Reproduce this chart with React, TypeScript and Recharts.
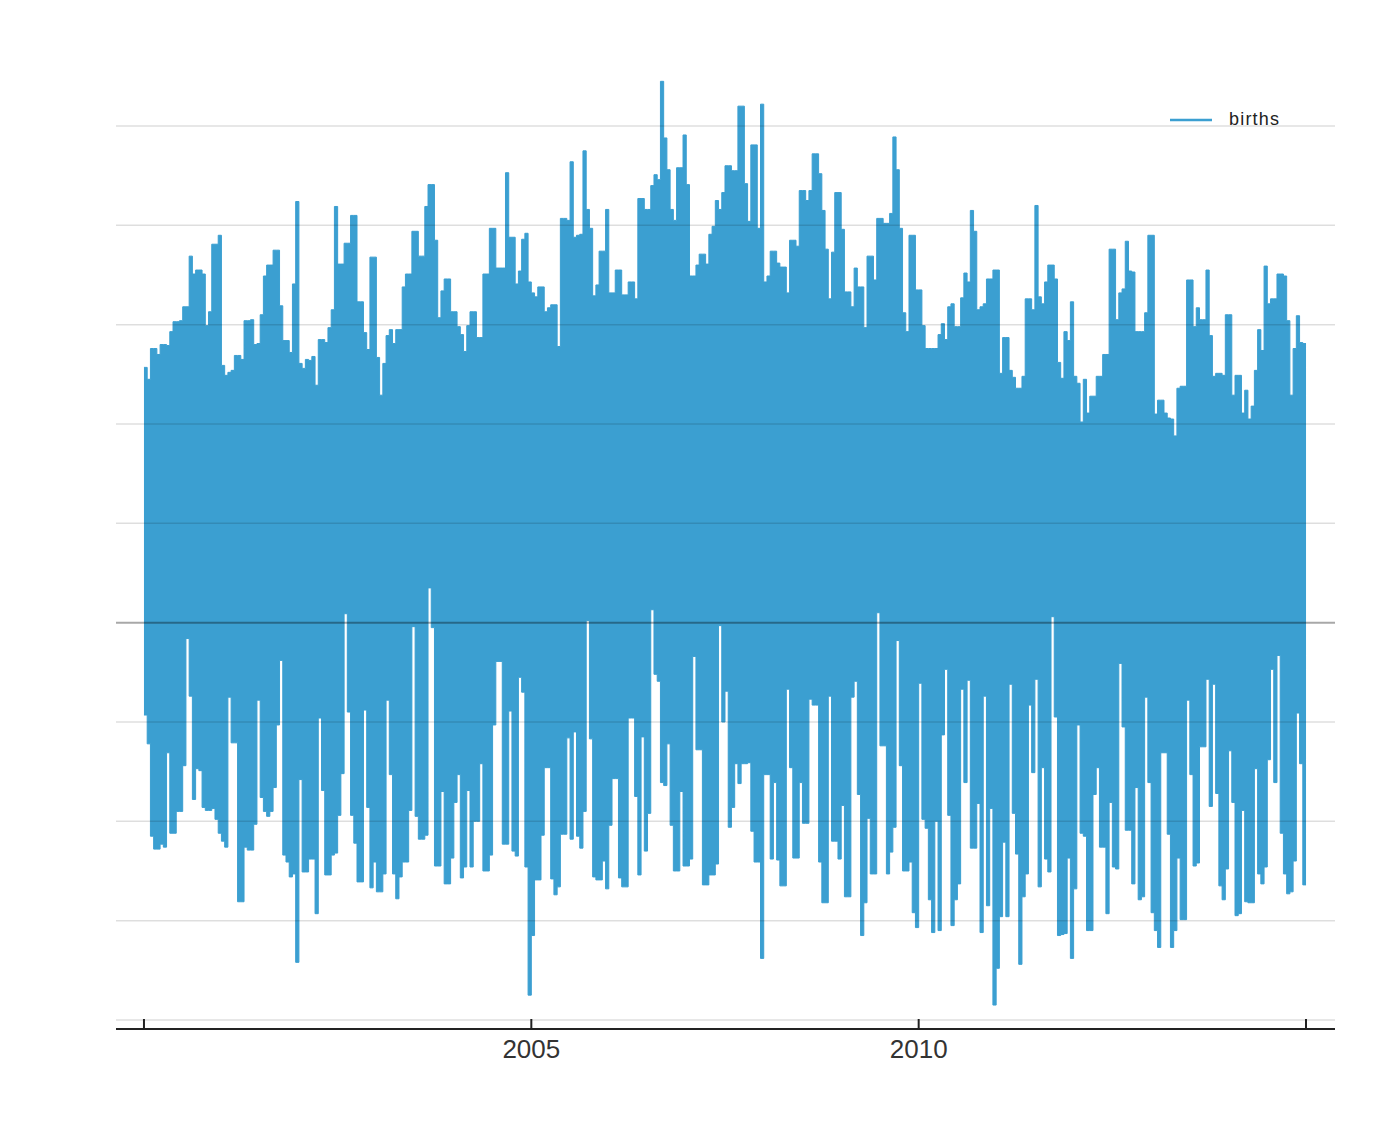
import { ComposedChart, Area, XAxis, YAxis, ReferenceLine } from 'recharts'

// half-month upper envelope of daily births, one row per year 2000 .. 2014
const halfMonthHigh = [
  12570, 12450, 12760, 12760, 12700, 12800, 12800, 12790, 12930, 13030, 13030, 13040, 13180, 13180, 13690, 13510, 13550, 13550, 13510, 12990, 13130, 13810, 13810, 13900,
  12590, 12490, 12520, 12540, 12690, 12690, 12650, 13040, 13040, 13050, 12800, 12810, 13100, 13490, 13600, 13600, 13750, 13750, 13190, 12840, 12840, 12720, 13410, 14240,
  12610, 12560, 12650, 12640, 12680, 12390, 12850, 12850, 12820, 12970, 13150, 14190, 13610, 13610, 13820, 13820, 14100, 14100, 13230, 13230, 12920, 12750, 13680, 13680,
  12670, 12290, 12610, 12890, 12950, 12810, 12950, 12950, 13380, 13510, 13510, 13940, 13940, 13690, 13690, 14190, 14410, 14410, 13850, 13070, 13340, 13460, 13460, 13130,
  13130, 12980, 12900, 12730, 12990, 13130, 13130, 12870, 12870, 13510, 13510, 13970, 13970, 13570, 13570, 13570, 14530, 13880, 13880, 13410, 13540, 13860, 13920, 13430,
  13320, 13280, 13380, 13380, 13130, 13170, 13200, 13200, 12780, 14070, 14070, 14050, 14640, 13880, 13900, 13910, 14750, 14160, 13970, 13290, 13400, 13740, 13740, 14160,
  13320, 13320, 13550, 13550, 13300, 13300, 13430, 13430, 13260, 14270, 14270, 14160, 14160, 14400, 14510, 14460, 15450, 14880, 14560, 14160, 14050, 14580, 14580, 14910,
  14410, 13490, 13490, 13600, 13710, 13710, 13610, 13910, 13990, 14250, 14160, 14330, 14600, 14600, 14550, 14550, 15200, 15200, 14420, 14040, 14810, 14810, 13970, 15220,
  13430, 13490, 13740, 13740, 13620, 13580, 13580, 13320, 13850, 13850, 13790, 14350, 14350, 14250, 14350, 14720, 14720, 14520, 14150, 13760, 13260, 13730, 14330, 14330,
  13960, 13330, 13330, 13180, 13570, 13380, 13380, 12970, 13690, 13690, 13450, 14070, 14070, 14020, 14020, 14120, 14890, 14560, 13970, 13120, 12930, 13900, 13900, 13350,
  13350, 12990, 12760, 12760, 12760, 12760, 12900, 13010, 12850, 13180, 13210, 12980, 12980, 13270, 13520, 13430, 14150, 13940, 13150, 13180, 13210, 13460, 13460, 13550,
  13550, 12510, 12870, 12870, 12540, 12470, 12360, 12360, 12480, 13260, 13260, 13150, 14200, 13280, 13210, 13430, 13600, 13600, 13460, 12620, 12460, 12930, 12840, 13230,
  12480, 12410, 12020, 12450, 12110, 12280, 12280, 12480, 12480, 12700, 12700, 13760, 13760, 13050, 13320, 13360, 13840, 13540, 13530, 12930, 12930, 12930, 13120, 13900,
  13900, 12100, 12240, 12240, 12110, 12060, 12050, 11880, 12360, 12380, 12380, 13450, 13450, 12980, 13170, 13050, 13050, 13550, 12890, 12480, 12510, 12510, 12490, 13100,
  13100, 12290, 12490, 12490, 12110, 12340, 12050, 12180, 12540, 12950, 12740, 13590, 13210, 13260, 13260, 13510, 13510, 13490, 13040, 12290, 12760, 13090, 12820, 12810,
]

// half-month lower envelope of daily births, one row per year 2000 .. 2014
const halfMonthLow = [
  9070, 8780, 7850, 7720, 7720, 7770, 7740, 8690, 7880, 7880, 8100, 8100, 8560, 9840, 9260, 8220, 8530, 8510, 8140, 8110, 8110, 8130, 8020, 7880,
  7800, 7740, 9250, 8790, 8790, 7190, 7190, 7740, 7710, 7710, 7970, 9220, 8240, 8100, 8050, 8100, 8340, 8970, 9620, 7660, 7590, 7440, 7470, 6580,
  8420, 7490, 7490, 7620, 7620, 7070, 9040, 8310, 7460, 7460, 7660, 7680, 8060, 8480, 10090, 9100, 8060, 7780, 7390, 7390, 9120, 8140, 7330, 7590,
  7290, 7290, 7470, 9220, 8470, 7470, 7220, 7440, 7590, 7590, 8110, 9960, 8050, 7820, 7820, 7860, 10350, 9950, 7550, 7550, 8300, 7370, 7370, 7630,
  8190, 8470, 7430, 7540, 8310, 7540, 8000, 8000, 8580, 7500, 7500, 7660, 8970, 9610, 9610, 7770, 7770, 9110, 7700, 7650, 9450, 9300, 7540, 6250,
  6850, 7410, 7410, 7860, 8540, 8540, 7420, 7260, 7340, 7870, 7870, 8840, 7820, 8900, 7850, 7730, 8100, 10020, 8830, 7440, 7410, 7410, 7600, 7320,
  7960, 8430, 8430, 7430, 7340, 7340, 9040, 9040, 8250, 7460, 8850, 7700, 8080, 10130, 9480, 9410, 8390, 8360, 8780, 7960, 7500, 7500, 8300, 7550,
  7550, 7620, 9660, 8720, 8720, 7360, 7360, 7460, 7460, 7570, 9970, 9000, 9310, 7940, 8140, 8580, 8380, 8580, 8580, 8590, 7900, 7590, 7590, 6620,
  8470, 8470, 7620, 8390, 7610, 7350, 7350, 9330, 8540, 7630, 7630, 8390, 7980, 7980, 9230, 9170, 9170, 7590, 7180, 7180, 9260, 7800, 7800, 7620,
  8160, 7240, 7240, 9250, 9410, 8270, 6850, 7180, 8030, 7470, 7470, 10100, 8760, 8760, 7470, 7690, 7940, 9820, 8560, 7500, 7500, 7590, 7080, 6930,
  9390, 8020, 7930, 7210, 6880, 8000, 6900, 8870, 9530, 8060, 6950, 7210, 7370, 9330, 8390, 9420, 7730, 7730, 8180, 6880, 9260, 7150, 8130, 6150,
  6520, 7040, 7790, 7040, 9380, 8080, 7670, 6560, 7240, 7470, 9170, 8490, 9430, 7340, 8540, 7620, 7490, 10060, 9050, 6850, 6860, 6870, 7630, 6620,
  7320, 8970, 7880, 7850, 6900, 6900, 8270, 8540, 7740, 7740, 7070, 8190, 7540, 7520, 9590, 8950, 7910, 7910, 7370, 8340, 7210, 7240, 9250, 8390,
  7080, 6900, 6730, 8690, 8690, 7870, 6730, 6900, 7630, 7010, 7010, 9220, 8470, 7550, 7580, 8750, 8750, 9430, 8150, 9380, 8280, 7350, 7210, 7520,
  8710, 8190, 7050, 7070, 8110, 7190, 7180, 7180, 8530, 7470, 7370, 7540, 8620, 9530, 8390, 9670, 7880, 7470, 7270, 7290, 7600, 9090, 8580, 7360,
]

const startYear = 2000
const yearTicks = [2000, 2005, 2010, 2015]
const labelledYears = [2005, 2010]
const gridValues = [6000, 7000, 8000, 9000, 10000, 11000, 12000, 13000, 14000, 15000]

const data = halfMonthHigh.map((hi, i) => ({
  t: startYear + i / 24,
  births: [halfMonthLow[i], hi],
}))
// close the last half-month so the band reaches the end of 2014
data.push({ t: startYear + halfMonthHigh.length / 24, births: data[data.length - 1].births })

const FONT = '"Liberation Sans", Arial, Helvetica, sans-serif'
const BLUE = '#3b9fd1'

function YearTick({ x, y, payload }: any) {
  return (
    <g>
      <line x1={x} x2={x} y1={y} y2={y - 10} stroke="#222" strokeWidth={2} />
      {labelledYears.includes(payload.value) && (
        <text x={x} y={y + 29} textAnchor="middle" fontSize={26} fill="#333" fontFamily={FONT}>
          {payload.value}
        </text>
      )}
    </g>
  )
}

function BirthsLegend() {
  return (
    <div
      style={{
        position: 'absolute',
        left: 1169,
        top: 109,
        display: 'flex',
        alignItems: 'center',
        fontFamily: FONT,
      }}
    >
      <svg width={44} height={6}>
        <line x1={1} x2={43} y1={3} y2={3} stroke={BLUE} strokeWidth={2.5} />
      </svg>
      <span style={{ marginLeft: 16, fontSize: 18, color: '#222', letterSpacing: 1.2 }}>births</span>
    </div>
  )
}

export default function App() {
  return (
    <div style={{ position: 'absolute', left: 0, top: 0, width: 1390, height: 1126 }}>
      <ComposedChart width={1390} height={1126} data={data} margin={{ top: 55, right: 55, left: 116, bottom: 0 }}>
        <XAxis
          dataKey="t"
          type="number"
          domain={[1999.639, 2015.374]}
          allowDataOverflow
          ticks={yearTicks}
          tick={<YearTick />}
          tickSize={0}
          tickMargin={0}
          tickLine={false}
          axisLine={{ stroke: '#222', strokeWidth: 2 }}
          height={97}
          interval={0}
        />
        <YAxis
          type="number"
          domain={[5909, 15715]}
          allowDataOverflow
          tick={false}
          tickLine={false}
          axisLine={{ stroke: '#222', strokeWidth: 1.5 }}
          width={0}
        />
        <Area
          type="stepAfter"
          dataKey="births"
          stroke={BLUE}
          strokeWidth={1}
          fill={BLUE}
          fillOpacity={1}
          dot={false}
          activeDot={false}
          isAnimationActive={false}
        />
        {gridValues.map((v) => (
          <ReferenceLine
            key={v}
            y={v}
            stroke={v === 10000 ? 'rgba(0,0,0,0.34)' : 'rgba(0,0,0,0.13)'}
            strokeWidth={v === 10000 ? 2 : 1.5}
          />
        ))}
      </ComposedChart>
      <BirthsLegend />
    </div>
  )
}
